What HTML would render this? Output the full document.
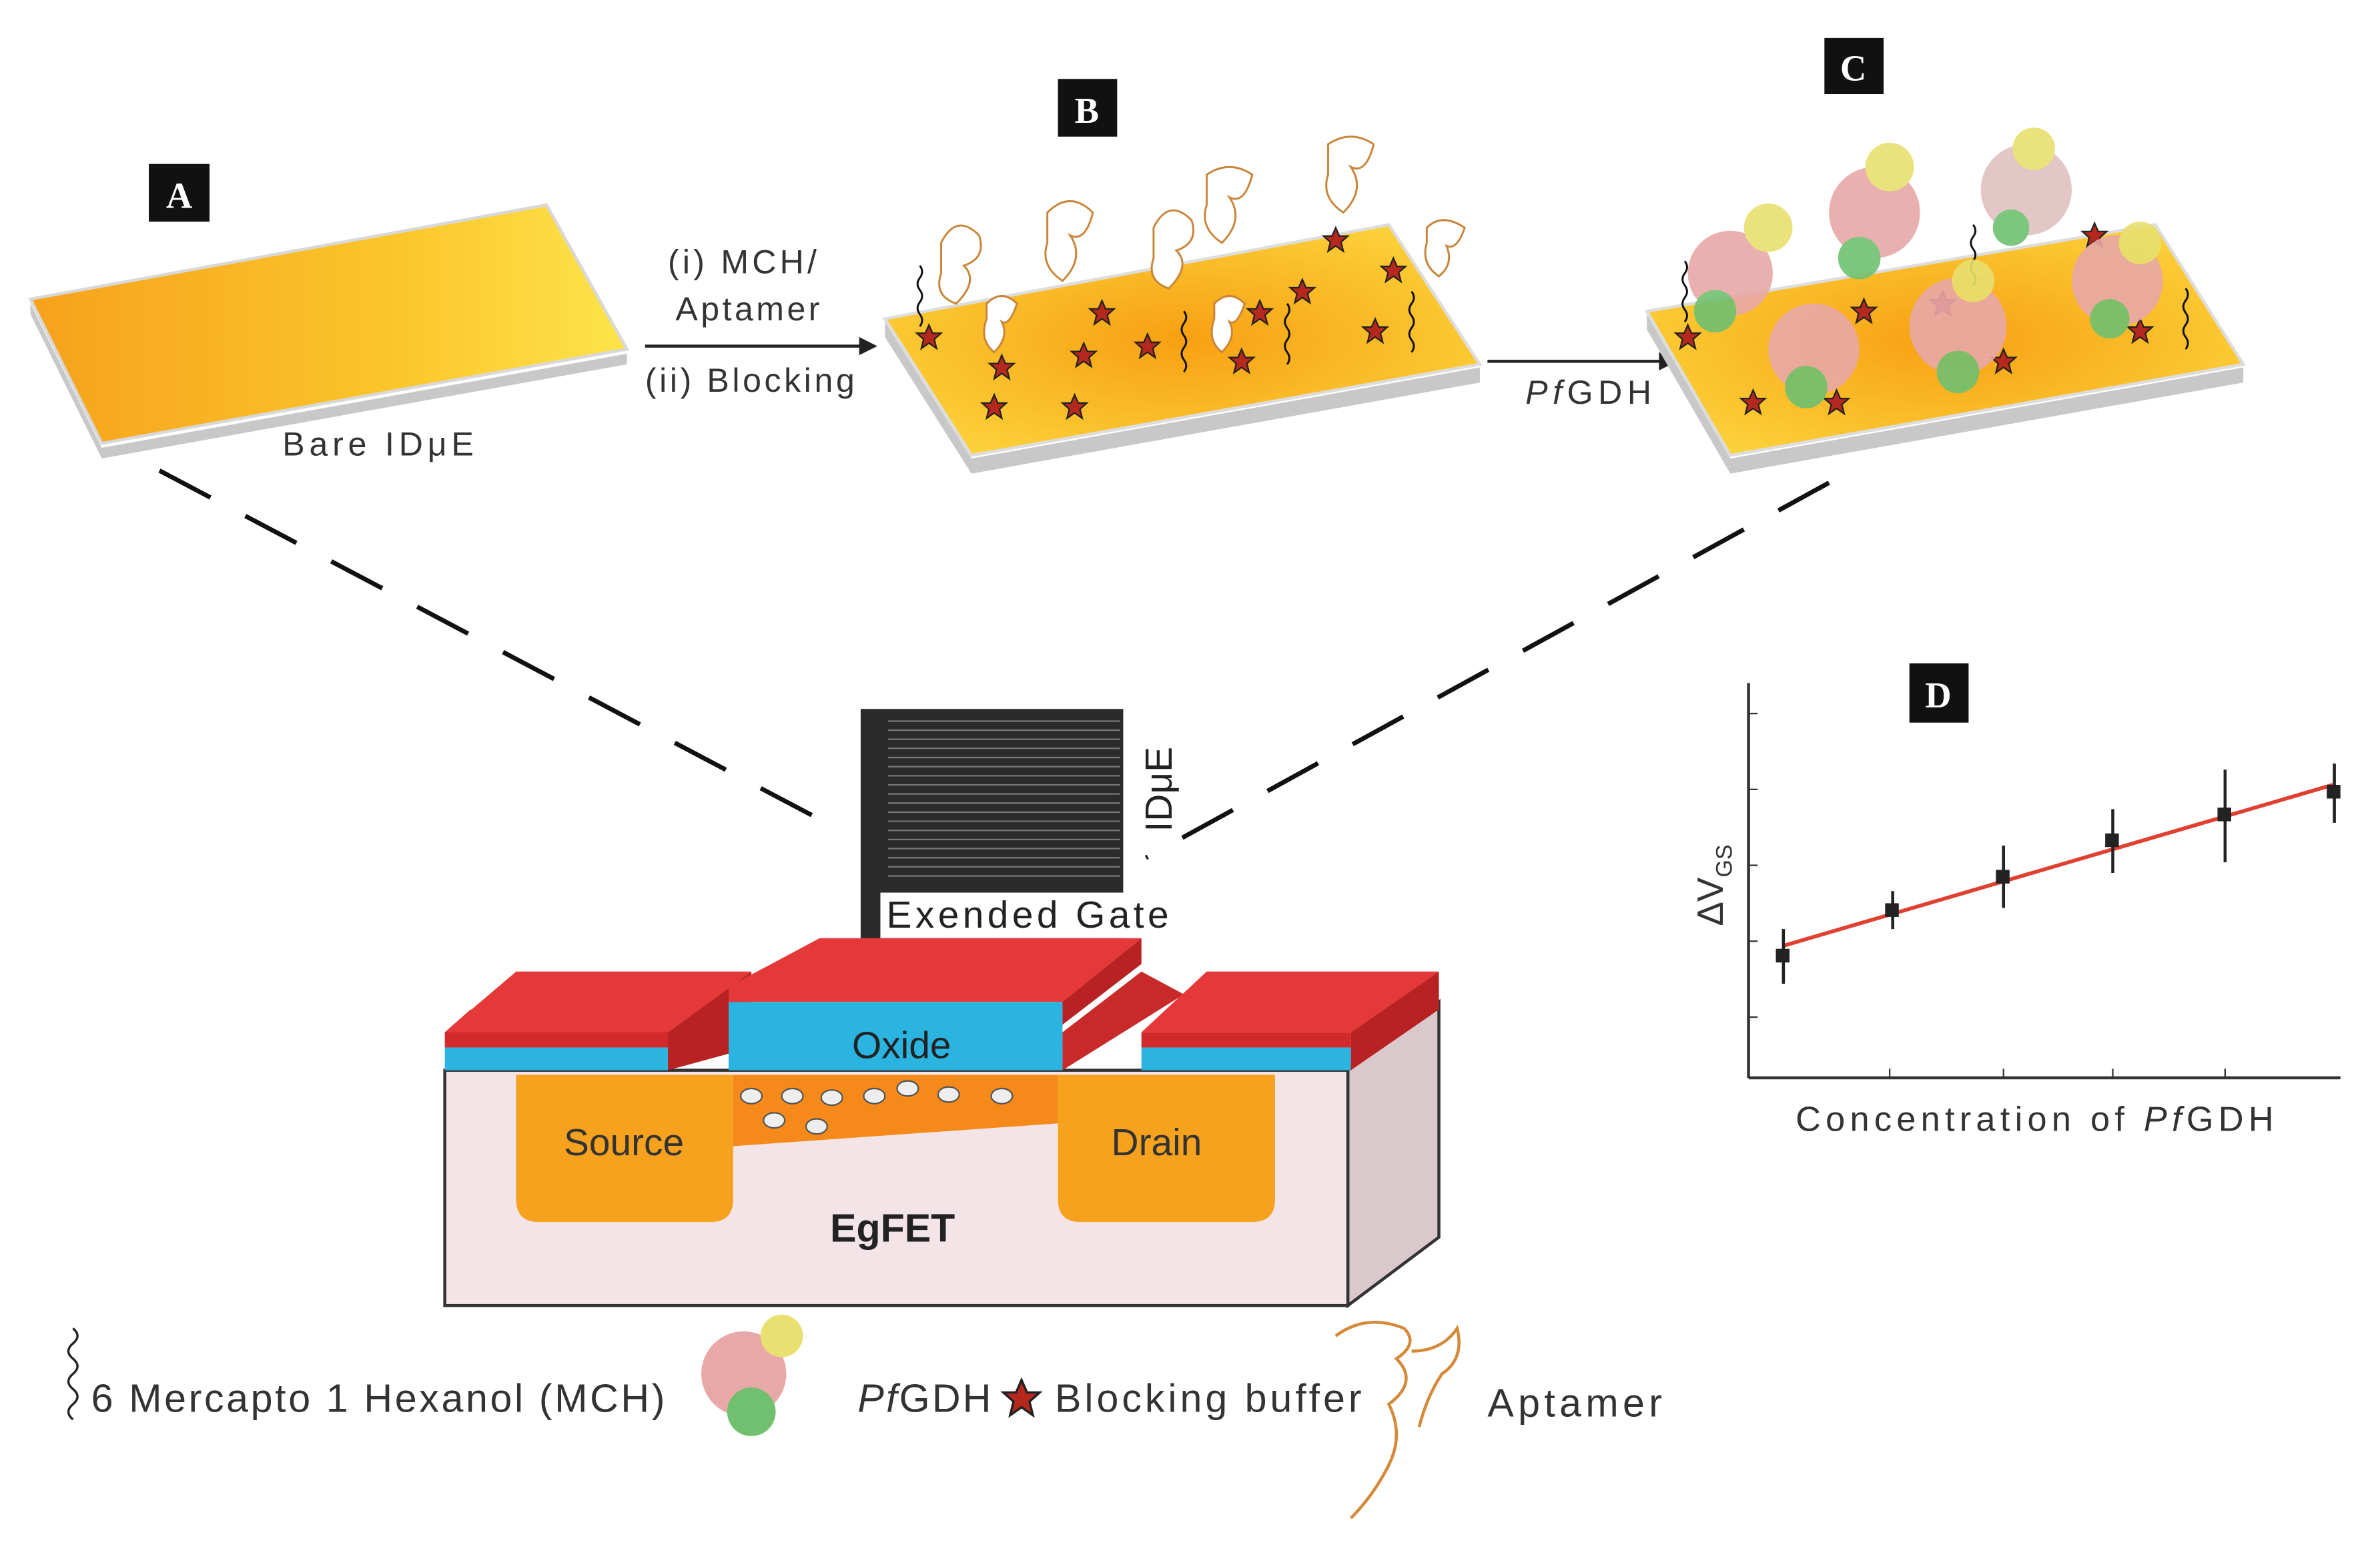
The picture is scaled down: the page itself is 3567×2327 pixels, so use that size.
<!DOCTYPE html>
<html><head><meta charset="utf-8"><style>
html,body{margin:0;padding:0;background:#fff;}
svg{display:block;}
.t{font-family:"Liberation Sans",sans-serif;}
.s{font-family:"Liberation Serif",serif;font-weight:bold;}
</style></head><body>
<svg width="3567" height="2327" viewBox="0 0 1568 1023" xmlns="http://www.w3.org/2000/svg">
<defs>
<linearGradient id="og" x1="0" y1="0" x2="1" y2="0">
<stop offset="0" stop-color="#f6a21c"/><stop offset="0.6" stop-color="#fbc52a"/><stop offset="1" stop-color="#fde44a"/></linearGradient>
<radialGradient id="og2" cx="0.5" cy="0.5" r="0.6">
<stop offset="0" stop-color="#f7a012"/><stop offset="1" stop-color="#fcd23a"/></radialGradient>
<g id="star"><polygon points="0,-8 2.4,-2.5 8,-2.5 3.5,1.5 5,7.5 0,4 -5,7.5 -3.5,1.5 -8,-2.5 -2.4,-2.5" fill="#b5281e" stroke="#222" stroke-width="1"/></g>
<g id="sq"><path d="M0,0 q3,-4 0,-8 q-3,-4 0,-8 q3,-4 0,-8 q-3,-4 0,-8 q3,-4 0,-8" fill="none" stroke="#111" stroke-width="1.3"/></g>
</defs>
<rect width="1568" height="1023" fill="#fff"/>

<!-- Plate A -->
<polygon points="20,200 67,295 413,233 413,240 67,302 20,207" fill="#c8c8c8"/>
<polygon points="20,197 360,135 413,230 67,292" fill="url(#og)" stroke="#d8d8d8" stroke-width="2"/>
<text class="t" x="186" y="300" font-size="22" fill="#333" textLength="126">Bare IDμE</text>

<!-- Arrow 1 -->
<line x1="425" y1="228" x2="570" y2="228" stroke="#222" stroke-width="2"/>
<polygon points="578,228 566,222 566,234" fill="#222"/>
<text class="t" x="440" y="180" font-size="22" fill="#333" textLength="98">(i) MCH/</text>
<text class="t" x="445" y="211" font-size="22" fill="#333" textLength="95">Aptamer</text>
<text class="t" x="425" y="258" font-size="22" fill="#333" textLength="138">(ii) Blocking</text>

<!-- Plate B -->
<polygon points="583,212 640,302 975,242 975,252 640,312 583,222" fill="#c8c8c8"/>
<polygon points="583,210 915,148 975,240 640,300" fill="url(#og2)" stroke="#ddd" stroke-width="2"/>
<g>
<use href="#star" x="612" y="222"/><use href="#star" x="660" y="242"/><use href="#star" x="655" y="268"/>
<use href="#star" x="708" y="268"/><use href="#star" x="714" y="234"/><use href="#star" x="726" y="206"/>
<use href="#star" x="756" y="228"/><use href="#star" x="818" y="238"/><use href="#star" x="830" y="206"/>
<use href="#star" x="858" y="192"/><use href="#star" x="880" y="158"/><use href="#star" x="918" y="178"/>
<use href="#star" x="906" y="218"/>
<use href="#sq" x="606" y="215"/><use href="#sq" x="848" y="240"/><use href="#sq" x="930" y="232"/><use href="#sq" x="780" y="245"/>
</g>
<g fill="#fff" stroke="#c9863a" stroke-width="1.3">
<path d="M620,160 q10,-20 25,-5 q5,15 -10,20 q10,10 -5,25 q-15,-5 -10,-20z"/>
<path d="M690,140 q15,-15 30,0 q-5,20 -15,15 q10,15 -5,30 q-15,-10 -10,-25z"/>
<path d="M760,150 q10,-20 25,-5 q5,15 -10,20 q10,10 -5,25 q-15,-5 -10,-20z"/>
<path d="M795,115 q15,-10 30,0 q-5,20 -15,15 q10,15 -5,30 q-15,-10 -10,-25z"/>
<path d="M875,95 q15,-10 30,0 q-5,20 -15,15 q10,15 -5,30 q-15,-10 -10,-25z"/>
<path d="M940,150 q10,-10 25,0 q-5,15 -12,12 q5,12 -5,20 q-12,-8 -8,-22z"/>
<path d="M650,200 q10,-10 20,0 q-5,15 -10,12 q5,10 -5,20 q-10,-8 -5,-22z"/>
<path d="M800,200 q10,-10 20,0 q-5,15 -10,12 q5,10 -5,20 q-10,-8 -5,-22z"/>
</g>

<!-- Arrow 2 -->
<line x1="980" y1="238" x2="1097" y2="238" stroke="#222" stroke-width="2"/>
<polygon points="1105,238 1093,232 1093,244" fill="#222"/>
<text class="t" x="1005" y="266" font-size="22" fill="#333" textLength="83"><tspan font-style="italic">Pf</tspan>GDH</text>

<!-- Plate C -->
<polygon points="1085,207 1140,302 1478,242 1478,252 1140,312 1085,217" fill="#c8c8c8"/>
<polygon points="1085,205 1420,148 1478,240 1140,300" fill="url(#og2)" stroke="#ddd" stroke-width="2"/>
<g>
<use href="#star" x="1112" y="222"/><use href="#star" x="1155" y="265"/><use href="#star" x="1210" y="265"/>
<use href="#star" x="1228" y="205"/><use href="#star" x="1280" y="200"/><use href="#star" x="1320" y="238"/>
<use href="#star" x="1380" y="155"/><use href="#star" x="1410" y="218"/>
<use href="#sq" x="1110" y="212"/><use href="#sq" x="1300" y="188"/><use href="#sq" x="1440" y="230"/>
</g>
<g opacity="0.9">
<circle cx="1140" cy="180" r="28" fill="#e8a8a8"/><circle cx="1165" cy="150" r="16" fill="#e8e070"/><circle cx="1130" cy="205" r="14" fill="#70c070"/>
<circle cx="1235" cy="140" r="30" fill="#e8a8a8"/><circle cx="1245" cy="110" r="16" fill="#e8e070"/><circle cx="1225" cy="170" r="14" fill="#70c070"/>
<circle cx="1335" cy="125" r="30" fill="#e0c0c0"/><circle cx="1340" cy="98" r="14" fill="#e8e070"/><circle cx="1325" cy="150" r="12" fill="#70c070"/>
<circle cx="1195" cy="230" r="30" fill="#e8a8a8"/><circle cx="1190" cy="255" r="14" fill="#70c070"/>
<circle cx="1290" cy="215" r="32" fill="#e8a8a8"/><circle cx="1290" cy="245" r="14" fill="#70c070"/><circle cx="1300" cy="185" r="14" fill="#e8e070"/>
<circle cx="1395" cy="185" r="30" fill="#e8a8a8"/><circle cx="1410" cy="160" r="14" fill="#e8e070"/><circle cx="1390" cy="210" r="13" fill="#70c070"/>
</g>

<!-- Labels -->
<rect x="98" y="108" width="40" height="38" fill="#111"/><text class="s" x="118" y="137" font-size="24" fill="#fff" text-anchor="middle">A</text>
<rect x="697" y="52" width="39" height="38" fill="#111"/><text class="s" x="716" y="81" font-size="24" fill="#fff" text-anchor="middle">B</text>
<rect x="1202" y="25" width="39" height="37" fill="#111"/><text class="s" x="1221" y="53" font-size="24" fill="#fff" text-anchor="middle">C</text>
<rect x="1258" y="437" width="39" height="39" fill="#111"/><text class="s" x="1277" y="466" font-size="24" fill="#fff" text-anchor="middle">D</text>

<!-- Dashed lines -->
<line x1="105" y1="310" x2="550" y2="545" stroke="#111" stroke-width="3" stroke-dasharray="38,26"/>
<line x1="1205" y1="318" x2="755" y2="565" stroke="#111" stroke-width="3" stroke-dasharray="38,26"/>

<!-- IDuE chip -->
<rect x="567" y="467" width="173" height="153" fill="#2b2b2b"/>
<g stroke="#777" stroke-width="1">
<line x1="585" y1="475" x2="738" y2="475"/><line x1="585" y1="481" x2="738" y2="481"/><line x1="585" y1="487" x2="738" y2="487"/>
<line x1="585" y1="493" x2="738" y2="493"/><line x1="585" y1="499" x2="738" y2="499"/><line x1="585" y1="505" x2="738" y2="505"/>
<line x1="585" y1="511" x2="738" y2="511"/><line x1="585" y1="517" x2="738" y2="517"/><line x1="585" y1="523" x2="738" y2="523"/>
<line x1="585" y1="529" x2="738" y2="529"/><line x1="585" y1="535" x2="738" y2="535"/><line x1="585" y1="541" x2="738" y2="541"/>
<line x1="585" y1="547" x2="738" y2="547"/><line x1="585" y1="553" x2="738" y2="553"/><line x1="585" y1="559" x2="738" y2="559"/>
<line x1="585" y1="565" x2="738" y2="565"/><line x1="585" y1="571" x2="738" y2="571"/><line x1="585" y1="577" x2="738" y2="577"/>
</g>
<rect x="580" y="588" width="190" height="30" fill="#fff"/>
<text class="t" x="584" y="611" font-size="25" fill="#222" textLength="186">Exended Gate</text>
<text class="t" transform="translate(772,548) rotate(-90)" font-size="25" fill="#222">IDμE</text>

<!-- EgFET -->
<polygon points="888,705 948,660 948,815 888,860" fill="#d9c9cc" stroke="#333" stroke-width="2"/>
<rect x="293" y="705" width="595" height="155" fill="#f3e4e8" stroke="#333" stroke-width="2"/>
<polygon points="293,680 310,665 440,665 440,690 293,690" fill="#d22a2a"/>
<rect x="293" y="690" width="147" height="15" fill="#2bb4e0"/>
<polygon points="293,680 340,640 495,640 440,680" fill="#e53838"/>
<polygon points="440,680 495,640 495,690 440,705" fill="#b82222"/>
<polygon points="480,650 540,618 752,618 700,660 480,660" fill="#e53838"/>
<rect x="480" y="660" width="220" height="45" fill="#2bb4e0"/>
<polygon points="700,660 752,618 752,635 700,675" fill="#b82222"/>
<polygon points="752,640 780,655 700,705 700,680" fill="#c82a2a"/>
<polygon points="752,680 795,640 948,640 890,680" fill="#e53838"/>
<rect x="752" y="680" width="138" height="10" fill="#d22a2a"/>
<rect x="752" y="690" width="138" height="15" fill="#2bb4e0"/>
<polygon points="890,680 948,640 948,665 890,705" fill="#b82222"/>
<text class="t" x="594" y="697" font-size="25" fill="#222" text-anchor="middle">Oxide</text>
<path d="M340,708 h143 v82 q0,15 -15,15 h-113 q-15,0 -15,-15z" fill="#f7a21e"/>
<path d="M697,708 h143 v82 q0,15 -15,15 h-113 q-15,0 -15,-15z" fill="#f7a21e"/>
<polygon points="483,708 697,708 697,740 483,755" fill="#f58a1a"/>
<g fill="#eee" stroke="#555" stroke-width="1">
<ellipse cx="495" cy="722" rx="7" ry="5"/><ellipse cx="522" cy="722" rx="7" ry="5"/><ellipse cx="548" cy="723" rx="7" ry="5"/>
<ellipse cx="576" cy="722" rx="7" ry="5"/><ellipse cx="598" cy="717" rx="7" ry="5"/><ellipse cx="625" cy="721" rx="7" ry="5"/>
<ellipse cx="660" cy="722" rx="7" ry="5"/><ellipse cx="510" cy="738" rx="7" ry="5"/><ellipse cx="538" cy="742" rx="7" ry="5"/>
</g>
<text class="t" x="411" y="761" font-size="25" fill="#333" text-anchor="middle">Source</text>
<text class="t" x="762" y="761" font-size="25" fill="#333" text-anchor="middle">Drain</text>
<text class="t" x="588" y="818" font-size="26" font-weight="bold" fill="#222" text-anchor="middle">EgFET</text>

<!-- Graph D -->
<line x1="1152" y1="450" x2="1152" y2="710" stroke="#333" stroke-width="2"/>
<line x1="1152" y1="710" x2="1542" y2="710" stroke="#333" stroke-width="2"/>
<g stroke="#333" stroke-width="1">
<line x1="1152" y1="470" x2="1158" y2="470"/><line x1="1152" y1="520" x2="1158" y2="520"/><line x1="1152" y1="570" x2="1158" y2="570"/>
<line x1="1152" y1="620" x2="1158" y2="620"/><line x1="1152" y1="670" x2="1158" y2="670"/>
<line x1="1245" y1="710" x2="1245" y2="704"/><line x1="1320" y1="710" x2="1320" y2="704"/><line x1="1392" y1="710" x2="1392" y2="704"/><line x1="1466" y1="710" x2="1466" y2="704"/>
</g>
<line x1="1175" y1="623" x2="1537" y2="517" stroke="#e04030" stroke-width="2.5"/>
<g stroke="#222" stroke-width="2" fill="#222">
<line x1="1175" y1="612" x2="1175" y2="648"/><rect x="1171" y="626" width="7" height="7"/>
<line x1="1247" y1="587" x2="1247" y2="612"/><rect x="1243" y="596" width="7" height="7"/>
<line x1="1320" y1="557" x2="1320" y2="598"/><rect x="1316" y="574" width="7" height="7"/>
<line x1="1392" y1="533" x2="1392" y2="575"/><rect x="1388" y="550" width="7" height="7"/>
<line x1="1466" y1="507" x2="1466" y2="568"/><rect x="1462" y="533" width="7" height="7"/>
<line x1="1538" y1="503" x2="1538" y2="542"/><rect x="1534" y="518" width="7" height="7"/>
</g>
<text class="t" transform="translate(1135,610) rotate(-90)" font-size="24" fill="#333">ΔV<tspan font-size="15" dy="6">GS</tspan></text>
<text class="t" x="1183" y="745" font-size="23" fill="#333" textLength="315"><tspan>Concentration of </tspan><tspan font-style="italic">Pf</tspan><tspan>GDH</tspan></text>

<!-- Legend -->
<path d="M48,935 q-6,-5 0,-10 q6,-5 0,-10 q-6,-5 0,-10 q6,-5 0,-10 q-6,-5 0,-10 q6,-5 0,-10" fill="none" stroke="#222" stroke-width="1.5"/>
<text class="t" x="60" y="930" font-size="26" fill="#333" textLength="378">6 Mercapto 1 Hexanol (MCH)</text>
<circle cx="490" cy="905" r="28" fill="#e8a8a8"/><circle cx="515" cy="880" r="14" fill="#e8e070"/><circle cx="495" cy="930" r="16" fill="#70c070"/>
<text class="t" x="565" y="930" font-size="26" fill="#333" textLength="88"><tspan font-style="italic">Pf</tspan><tspan>GDH</tspan></text>
<use href="#star" transform="translate(673,921) scale(1.5)"/>
<text class="t" x="695" y="930" font-size="26" fill="#333" textLength="202">Blocking buffer</text>
<path d="M880,880 q20,-15 45,-5 q10,10 -5,20 q15,15 -5,30 q10,20 0,40 q-10,20 -25,35" fill="none" stroke="#d48a3a" stroke-width="2"/>
<path d="M930,890 q20,0 30,-15 q5,20 -10,30 q-10,15 -15,35" fill="none" stroke="#d48a3a" stroke-width="2"/>
<text class="t" x="980" y="933" font-size="26" fill="#333" textLength="115">Aptamer</text>
</svg>
</body></html>
